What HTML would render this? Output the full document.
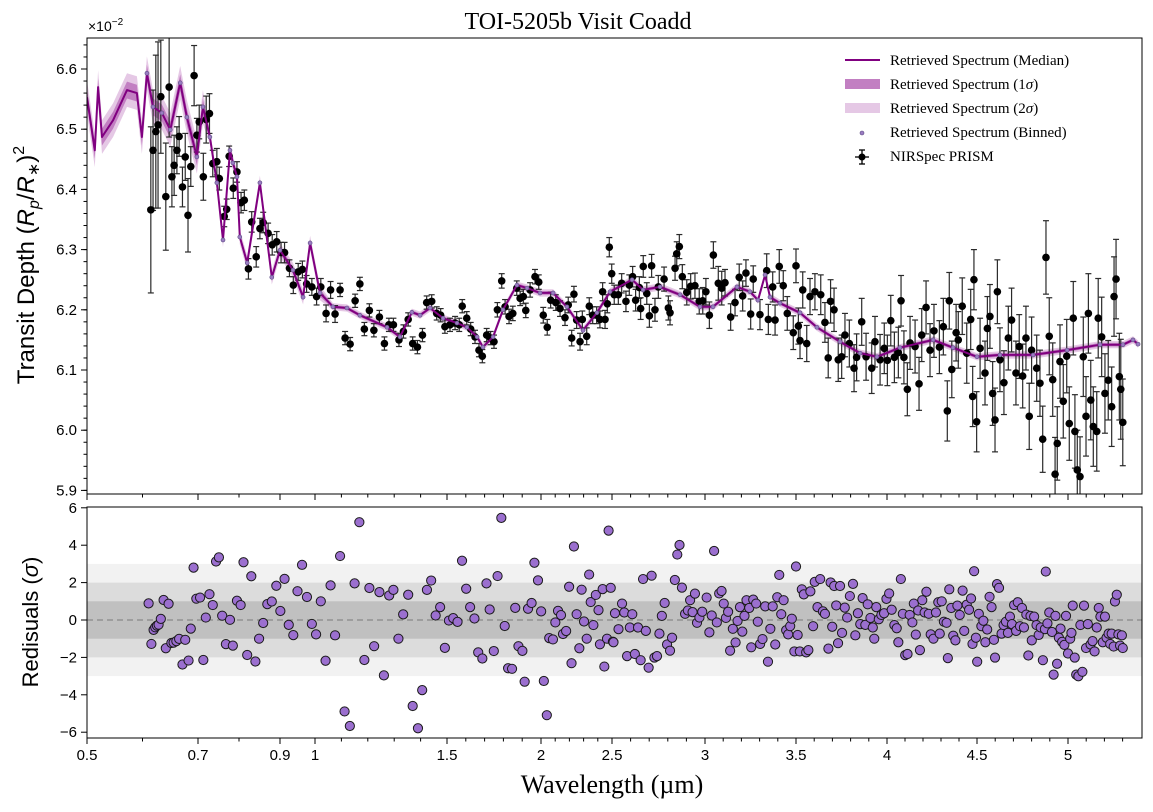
<!DOCTYPE html>
<html><head><meta charset="utf-8">
<style>
html,body{margin:0;padding:0;background:#fff;}
svg{display:block;}
text{font-family:"Liberation Sans","DejaVu Sans",sans-serif;}
.serif{font-family:"Liberation Serif","DejaVu Serif",serif;}
</style></head>
<body>
<svg id="chart" width="1153" height="812" viewBox="0 0 1153 812" xmlns="http://www.w3.org/2000/svg">
<defs>
<clipPath id="clipTop"><rect x="87" y="38" width="1055" height="456"/></clipPath>
<clipPath id="clipBot"><rect x="87" y="507" width="1055" height="231"/></clipPath>
</defs>
<text class="serif" x="578" y="29" font-size="24" text-anchor="middle">TOI-5205b Visit Coadd</text>
<text x="88" y="31" font-size="14">×10<tspan dy="-6" font-size="10">−2</tspan></text>
<g id="bands-bot"></g>
<g id="top-content" clip-path="url(#clipTop)"></g>
<g id="bot-content" clip-path="url(#clipBot)"></g>
<g id="axes"></g>
<text x="34" y="265" font-size="24" text-anchor="middle" transform="rotate(-90 34 265)">Transit Depth (<tspan font-style="italic">R</tspan><tspan font-size="16" dy="5" font-style="italic">p</tspan><tspan dy="-5">/</tspan><tspan font-style="italic">R</tspan><tspan font-size="16" dy="5">∗</tspan><tspan dy="-5">)</tspan><tspan font-size="16" dy="-10">2</tspan></text>
<text x="38" y="622" font-size="22" text-anchor="middle" transform="rotate(-90 38 622)">Redisuals (<tspan font-style="italic">σ</tspan>)</text>
<text class="serif" x="612" y="793" font-size="26" text-anchor="middle">Wavelength (µm)</text>
<g id="legend">
<line x1="845" y1="60" x2="880" y2="60" stroke="#800080" stroke-width="2"/>
<text class="serif" x="890" y="65" font-size="15">Retrieved Spectrum (Median)</text>
<rect x="845" y="79" width="35" height="10" fill="#c27fc2"/>
<text class="serif" x="890" y="89" font-size="15">Retrieved Spectrum (1<tspan font-style="italic">σ</tspan>)</text>
<rect x="845" y="103" width="35" height="10" fill="#e5c8e5"/>
<text class="serif" x="890" y="113" font-size="15">Retrieved Spectrum (2<tspan font-style="italic">σ</tspan>)</text>
<circle cx="862" cy="133" r="2" fill="#9b7cc2" stroke="#5a4a80" stroke-width="0.6"/>
<text class="serif" x="890" y="137" font-size="15">Retrieved Spectrum (Binned)</text>
<g>
<line x1="855" y1="157" x2="869" y2="157" stroke="#000" stroke-width="1.3"/>
<line x1="862" y1="150" x2="862" y2="164" stroke="#000" stroke-width="1.3"/>
<line x1="859" y1="150" x2="865" y2="150" stroke="#000" stroke-width="1.3"/>
<line x1="859" y1="164" x2="865" y2="164" stroke="#000" stroke-width="1.3"/>
<circle cx="862" cy="157" r="3.5" fill="#000"/>
</g>
<text class="serif" x="890" y="161" font-size="15">NIRSpec PRISM</text>
</g>
</svg>
<script>
// ---- data ----
const modelWl=[0.500,0.514,0.520,0.527,0.547,0.572,0.590,0.599,0.608,0.619,0.635,0.650,0.668,0.680,0.698,0.712,0.729,0.746,0.761,0.778,0.785,0.795,0.802,0.820,0.851,0.880,0.900,0.937,0.966,0.986,1.019,1.068,1.121,1.170,1.273,1.322,1.367,1.398,1.436,1.485,1.553,1.606,1.660,1.691,1.745,1.798,1.872,1.926,1.995,2.085,2.183,2.296,2.394,2.486,2.608,2.667,2.758,2.866,2.973,3.044,3.176,3.247,3.291,3.330,3.357,3.412,3.522,3.615,3.742,3.852,3.945,4.072,4.256,4.367,4.500,4.626,4.808,4.995,5.176,5.302,5.357,5.385];
const modelDepth=[6.553,6.465,6.570,6.487,6.515,6.565,6.560,6.487,6.593,6.537,6.527,6.499,6.577,6.520,6.454,6.537,6.487,6.411,6.316,6.465,6.444,6.421,6.321,6.278,6.411,6.254,6.299,6.266,6.221,6.311,6.228,6.205,6.203,6.191,6.171,6.155,6.196,6.191,6.203,6.186,6.178,6.171,6.155,6.138,6.155,6.200,6.241,6.236,6.228,6.228,6.205,6.166,6.195,6.230,6.250,6.233,6.238,6.225,6.205,6.205,6.238,6.230,6.216,6.258,6.221,6.211,6.195,6.171,6.147,6.128,6.122,6.137,6.150,6.137,6.122,6.125,6.125,6.133,6.142,6.142,6.150,6.143];
const sigmaEdges=[0.72,1.02];
const sigmaVals=[0.014,0.006,0.003];
const dataWl=[0.615,0.619,0.624,0.628,0.633,0.642,0.648,0.653,0.657,0.662,0.666,0.672,0.677,0.682,0.687,0.693,0.698,0.703,0.713,0.720,0.728,0.736,0.746,0.752,0.764,0.770,0.776,0.786,0.795,0.805,0.813,0.823,0.831,0.842,0.851,0.859,0.871,0.881,0.892,0.903,0.913,0.927,0.938,0.952,0.964,0.976,0.991,1.006,1.022,1.042,1.059,1.076,
1.095,1.114,1.133,1.152,1.170,1.187,1.206,1.223,1.244,1.263,1.280,1.297,1.318,1.335,1.353,1.370,1.388,1.407,1.423,1.442,1.461,1.476,1.492,1.516,1.543,1.565,1.581,1.605,1.626,1.649,1.670,1.688,1.711,1.732,1.750,1.768,1.791,1.809,1.830,1.850,1.871,1.889,1.906,1.919,1.942,1.968,1.988,2.016,2.044,2.068,2.104,2.134,2.169,2.192,2.216,2.232,2.251,2.275,2.291,2.322,2.340,2.364,2.392,2.415,2.434,2.451,2.467,2.481,2.498,2.512,2.534,2.552,2.575,2.593,2.611,2.627,2.647,2.654,2.668,2.687,2.701,2.713,2.731,2.749,2.780,2.803,2.812,2.839,2.848,2.862,2.878,2.902,2.923,2.946,2.969,2.988,3.005,3.024,
3.046,3.073,3.092,3.110,3.141,3.165,3.188,3.207,3.225,3.251,3.265,3.302,3.339,3.348,3.372,3.385,3.408,3.430,3.452,3.485,3.500,3.513,3.522,3.537,3.559,3.577,3.604,3.636,3.659,3.677,3.690,3.709,3.732,3.751,3.769,3.793,3.819,3.833,3.861,3.885,3.916,3.934,3.962,3.985,4.002,4.021,4.041,4.063,4.078,4.094,4.113,4.128,4.156,4.178,4.193,4.217,4.239,4.261,4.291,4.313,4.335,4.346,4.360,4.384,4.396,4.418,4.443,4.465,4.476,4.483,4.498,4.517,4.544,4.557,4.571,4.586,4.599,4.612,4.626,4.648,4.672,4.690,4.714,4.732,4.751,4.769,4.787,4.800,4.828,4.846,4.861,4.879,4.897,4.916,4.929,4.941,4.956,4.974,4.993,5.007,5.029,5.038,5.051,5.066,5.084,5.099,5.112,5.125,5.139,5.158,5.166,5.185,5.203,5.221,5.240,5.253,5.264,5.282,5.290,5.301];
const dataDepth=[6.366,6.465,6.496,6.507,6.554,6.388,6.570,6.421,6.440,6.465,6.488,6.404,6.454,6.357,6.438,6.589,6.490,6.512,6.421,6.516,6.526,6.443,6.446,6.418,6.355,6.367,6.455,6.402,6.429,6.378,6.382,6.268,6.346,6.288,6.335,6.345,6.327,6.308,6.313,6.295,6.295,6.269,6.241,6.263,6.267,6.243,6.238,6.222,6.238,6.194,6.233,6.193,
6.233,6.153,6.143,6.215,6.243,6.168,6.199,6.166,6.188,6.144,6.175,6.175,6.150,6.164,6.184,6.144,6.138,6.158,6.212,6.214,6.194,6.191,6.172,6.175,6.178,6.175,6.206,6.186,6.168,6.155,6.133,6.123,6.158,6.153,6.147,6.200,6.248,6.205,6.189,6.194,6.236,6.219,6.222,6.199,6.233,6.255,6.246,6.191,6.171,6.216,6.212,6.202,6.187,6.208,6.153,6.226,6.183,6.147,6.184,6.156,6.206,6.191,6.191,6.184,6.230,6.184,6.210,6.304,6.260,6.225,6.225,6.244,6.214,6.241,6.255,6.216,6.237,6.202,6.272,6.227,6.190,6.273,6.200,6.238,6.251,6.203,6.195,6.269,6.293,6.305,6.255,6.229,6.239,6.240,6.214,6.215,6.230,6.191,
6.291,6.244,6.236,6.245,6.188,6.212,6.254,6.223,6.261,6.193,6.251,6.192,6.265,6.184,6.238,6.183,6.272,6.240,6.194,6.162,6.273,6.173,6.149,6.233,6.144,6.222,6.230,6.225,6.179,6.120,6.214,6.200,6.117,6.122,6.158,6.144,6.103,6.121,6.180,6.122,6.103,6.147,6.117,6.136,6.116,6.182,6.121,6.129,6.215,6.121,6.068,6.145,6.139,6.077,6.158,6.204,6.133,6.165,6.138,6.172,6.032,6.215,6.101,6.162,6.150,6.206,6.128,6.184,6.056,6.250,6.014,6.136,6.095,6.169,6.189,6.061,6.017,6.230,6.117,6.079,6.153,6.183,6.095,6.139,6.090,6.153,6.023,6.133,6.103,6.078,5.985,6.287,6.156,6.084,5.927,5.978,6.114,6.048,6.123,6.011,6.186,5.998,5.934,5.923,6.122,6.023,6.194,6.050,6.006,5.998,6.186,6.155,6.061,6.083,6.039,6.222,6.251,6.089,6.068,6.013];
const dataErr=[0.138,0.10,0.127,0.138,0.094,0.089,0.083,0.05,0.05,0.039,0.033,0.033,0.039,0.061,0.033,0.05,0.028,0.028,0.039,0.039,0.033,0.022,0.022,0.019,0.017,0.017,0.017,0.017,0.017,0.017,0.017,0.017,0.017,0.017,0.017,0.017,0.017,0.017,0.017,0.017,0.017,0.014,0.014,0.014,0.014,0.014,0.014,0.014,0.014,0.014,0.014,0.014,
0.011,0.011,0.011,0.011,0.011,0.011,0.011,0.011,0.011,0.011,0.011,0.011,0.011,0.011,0.011,0.011,0.011,0.011,0.011,0.011,0.011,0.011,0.011,0.011,0.011,0.011,0.011,0.011,0.011,0.011,0.011,0.011,0.011,0.011,0.011,0.012,0.012,0.012,0.012,0.012,0.012,0.012,0.012,0.012,0.012,0.012,0.012,0.013,0.013,0.013,0.013,0.013,0.013,0.013,0.013,0.013,0.014,0.014,0.014,0.014,0.014,0.014,0.014,0.014,0.015,0.015,0.015,0.016,0.016,0.016,0.016,0.016,0.017,0.017,0.017,0.018,0.018,0.018,0.018,0.018,0.019,0.019,0.019,0.019,0.020,0.020,0.020,0.020,0.020,0.020,0.020,0.021,0.021,0.021,0.021,0.022,0.022,0.022,
0.022,0.028,0.028,0.022,0.022,0.022,0.022,0.025,0.022,0.025,0.022,0.025,0.028,0.025,0.025,0.025,0.028,0.025,0.028,0.028,0.028,0.030,0.030,0.030,0.030,0.030,0.030,0.033,0.033,0.033,0.036,0.036,0.036,0.036,0.036,0.039,0.039,0.039,0.039,0.039,0.042,0.042,0.042,0.042,0.042,0.042,0.042,0.042,0.042,0.044,0.044,0.044,0.044,0.044,0.044,0.044,0.044,0.044,0.044,0.047,0.050,0.047,0.047,0.047,0.047,0.047,0.050,0.050,0.050,0.050,0.050,0.050,0.053,0.053,0.053,0.053,0.053,0.053,0.053,0.053,0.053,0.053,0.053,0.053,0.053,0.053,0.055,0.055,0.055,0.055,0.055,0.061,0.064,0.061,0.061,0.061,0.061,0.061,0.061,0.061,0.061,0.061,0.066,0.066,0.066,0.066,0.066,0.066,0.066,0.066,0.066,0.066,0.066,0.066,0.066,0.066,0.066,0.072,0.083,0.072,0.072,0.072];
const resWl=[0.611,0.616,0.620,0.623,0.626,0.629,0.633,0.638,0.642,0.647,0.652,0.656,0.661,0.666,0.672,0.677,0.683,0.687,0.692,0.697,0.705,0.713,0.719,0.728,0.736,0.744,0.751,0.759,0.768,0.778,0.785,0.795,0.804,0.811,0.820,0.830,0.840,0.849,0.859,0.869,0.880,0.891,0.901,0.913,0.925,0.938,0.950,0.963,0.977,0.991,1.004,1.022,1.040,1.059,1.076,1.095,1.112,1.132,1.150,1.168,1.187,1.206,1.224,1.244,1.261,1.281,1.297,1.316,1.334,1.353,1.370,1.390,1.406,1.424,1.440,1.457,1.474,1.492,1.510,1.533,1.556,1.580,1.602,1.623,1.646,1.666,1.688,1.710,1.727,1.749,1.769,1.789,1.807,1.825,1.846,1.863,1.880,1.901,1.913,1.931,1.950,1.965,1.984,2.001,2.020,2.041,2.058,2.084,2.101,2.120,2.141,2.155,2.177,2.198,2.215,2.232,2.251,2.270,2.286,2.303,2.322,2.339,2.350,2.369,2.386,2.405,2.415,2.434,2.446,2.465,2.476,2.491,2.505,
2.508,2.516,2.535,2.554,2.566,2.581,2.596,2.609,2.623,2.640,2.654,2.667,2.682,2.697,2.713,2.728,2.742,2.755,2.768,2.783,2.796,2.812,2.823,2.838,2.851,2.863,2.876,2.893,2.908,2.920,2.933,2.946,2.957,2.970,2.985,3.009,3.024,3.037,3.050,3.065,3.078,3.091,3.103,3.115,3.127,3.138,3.153,3.168,3.179,3.192,3.205,3.217,3.228,3.243,3.254,3.265,3.281,3.290,3.303,3.316,3.331,3.346,3.359,3.372,3.386,3.397,3.408,3.419,3.432,3.446,3.457,3.468,3.477,3.491,3.500,3.509,3.521,3.532,3.543,3.556,3.568,3.579,3.594,3.603,3.618,3.633,3.648,3.659,3.678,3.690,3.699,3.710,3.721,3.731,3.742,3.753,3.768,3.781,3.796,3.813,3.826,3.840,3.853,3.866,3.881,3.894,3.909,3.922,3.930,3.941,3.955,3.969,3.984,3.997,4.012,4.026,4.041,4.054,4.063,4.077,4.088,4.101,4.114,4.126,4.141,4.149,4.160,4.173,4.183,4.196,4.209,4.219,4.232,4.243,4.258,4.272,4.285,4.293,4.304,4.316,4.331,4.338,4.346,4.357,4.368,4.380,4.391,4.404,4.420,4.429,4.443,4.456,4.467,4.475,4.484,4.494,4.501,4.510,4.524,4.535,4.546,4.556,4.569,4.580,4.593,4.599,4.610,4.621,4.635,4.646,4.659,4.670,4.681,4.692,4.704,4.715,4.724,4.736,4.747,4.758,4.771,4.782,4.794,4.801,4.814,4.827,4.839,4.850,4.862,4.873,4.878,4.887,4.897,4.912,4.921,4.931,4.940,4.950,4.959,4.968,4.980,4.989,5.000,5.012,5.019,5.026,5.037,5.045,5.057,5.068,5.079,5.088,5.099,5.109,5.124,5.135,5.146,5.158,5.169,5.178,5.191,5.203,5.212,5.223,5.232,5.240,5.251,5.258,5.268,5.277,5.286,5.296,5.301];
const resVal=[0.89,-1.28,-0.53,-0.39,-0.30,-0.25,0.06,1.07,-1.51,0.87,-1.23,-1.21,-1.13,-1.01,-2.38,-1.06,-2.17,-0.46,2.80,1.14,1.20,-2.14,0.13,1.38,0.80,3.13,3.35,0.23,-1.29,0.01,-1.37,1.03,0.80,3.09,-1.87,2.34,-2.22,-1.00,-0.16,0.85,0.99,1.83,0.48,2.20,-0.26,-0.81,1.54,2.95,1.23,-0.21,-0.77,1.00,-2.18,1.85,-0.82,3.42,-4.89,-5.67,1.96,5.23,-2.14,1.71,-1.40,1.49,-2.96,1.31,1.61,-1.00,0.30,1.35,-4.60,-5.79,-3.75,1.61,2.11,0.24,0.69,-1.49,-0.03,0.10,-0.10,3.17,1.67,0.69,0.08,-1.73,-2.06,1.96,0.56,-1.66,2.35,5.46,-0.32,-2.58,-2.61,0.65,-1.40,-1.65,-3.30,0.60,0.91,3.06,2.12,0.46,-3.26,-5.09,-0.97,-1.04,-0.13,0.49,0.26,-0.75,-0.59,1.78,-2.31,3.93,0.31,-1.51,1.62,-0.08,-1.00,2.43,0.96,-0.27,1.34,0.53,-1.30,1.65,-2.49,-1.00,4.78,1.72,-1.16,
-1.19,0.36,-0.49,0.88,0.40,-1.93,-0.40,0.31,-1.82,-0.40,-2.15,2.19,-0.58,-2.55,2.37,-2.01,-1.93,-0.73,0.22,0.91,-1.31,-1.64,-0.95,2.14,3.50,4.01,1.73,0.33,0.51,1.06,0.42,1.41,-0.15,0.13,0.44,1.20,-0.66,0.24,3.69,-0.13,1.42,1.55,0.88,0.11,0.44,-1.64,-0.47,-1.20,-0.05,0.69,-0.62,0.22,1.06,0.64,-1.46,1.09,0.88,-0.09,-1.28,-1.02,0.73,-2.23,-0.47,0.73,-1.31,1.22,2.41,0.31,1.06,-0.55,-0.77,-0.33,0.07,-1.68,2.86,-0.80,-1.68,1.64,1.37,-1.73,-1.61,1.53,-0.33,2.04,0.69,2.19,0.46,0.33,-1.53,2.01,-0.36,1.82,0.78,-1.24,1.82,-0.69,0.66,0.13,1.28,1.93,-0.82,0.36,-0.22,1.17,-0.26,0.84,0.11,-0.40,-1.00,0.69,0.04,0.27,0.36,1.13,1.42,0.55,-0.27,-0.44,-1.19,2.19,0.33,-1.88,-1.82,0.27,-0.13,0.88,-0.78,0.51,-1.61,1.06,0.40,1.51,0.33,-0.77,-1.00,0.40,0.95,-0.73,1.00,-0.09,-0.15,-2.04,1.64,0.64,-0.84,-1.09,0.77,0.27,1.57,-0.58,0.82,0.55,1.15,-1.28,2.61,-0.95,-2.23,0.33,-0.33,-0.04,-1.19,-0.51,1.24,0.69,-1.06,-2.01,1.92,1.72,-0.73,-0.27,-0.09,-0.69,0.18,-0.22,0.80,-0.58,0.95,-0.33,0.64,-0.40,0.29,-1.90,0.22,-1.09,0.18,-0.27,-0.80,-0.40,-2.15,-0.49,2.59,-0.18,0.40,-0.64,-2.92,0.22,-2.34,-0.95,-0.46,-1.17,-1.33,0.22,-1.79,-1.00,-0.69,0.77,-2.01,-2.92,-3.01,-0.27,-2.77,0.77,-1.50,-0.22,-1.31,-1.13,-1.68,-0.40,0.64,0.18,-1.19,0.18,-0.95,-0.73,-1.28,-0.73,-1.42,0.99,1.35,-0.77,-1.37,-0.82,-1.50];
const xTickVals=[0.5,0.7,0.9,1,1.5,2,2.5,3,3.5,4,4.5,5];
const xTickLabels=["0.5","0.7","0.9","1","1.5","2","2.5","3","3.5","4","4.5","5"];
const yTopTicks=[6.6,6.5,6.4,6.3,6.2,6.1,6.0,5.9];
const yBotTicks=[6,4,2,0,-2,-4,-6];

// ---- axes functions ----
const KW=[0.5,0.7,0.9,1,1.5,2,2.5,3,3.5,4,4.5,5];
const KP=[87,198,280,315,447,541,612,705,796,887,977,1068];
function xs(w){
  if(w>=5) return 1068+(w-5)*182;
  for(let i=0;i<KW.length-1;i++){
    if(w<=KW[i+1]) return KP[i]+(w-KW[i])/(KW[i+1]-KW[i])*(KP[i+1]-KP[i]);
  }
  return 1068;
}
function yT(d){return 69+(6.6-d)*602;}
function yB(r){return 620-r*18.7;}
function sigmaAt(w){for(let i=0;i<sigmaEdges.length;i++){if(w<sigmaEdges[i])return sigmaVals[i];}return sigmaVals[sigmaVals.length-1];}

const NS="http://www.w3.org/2000/svg";
function mk(tag,attrs,parent){const e=document.createElementNS(NS,tag);for(const k in attrs)e.setAttribute(k,attrs[k]);parent.appendChild(e);return e;}

const topG=document.getElementById('top-content');
const botG=document.getElementById('bot-content');
const bandsBot=document.getElementById('bands-bot');
const axesG=document.getElementById('axes');

// residual sigma bands
[[3,"#f2f2f2"],[2,"#dcdcdc"],[1,"#c0c0c0"]].forEach(([s,c])=>{
  const r=mk('rect',{x:87,y:yB(s),width:1055,height:yB(-s)-yB(s),fill:c},bandsBot);
  
  
});
const zl=mk('line',{x1:87,x2:1142,y1:yB(0),y2:yB(0),stroke:'#888','stroke-dasharray':'6,4','stroke-width':1.2},bandsBot);



// model bands
function bandPath(k){
  let up=[],dn=[];
  for(let i=0;i<modelWl.length;i++){const s=sigmaAt(modelWl[i])*k;up.push(xs(modelWl[i]).toFixed(1)+','+yT(modelDepth[i]+s).toFixed(1));dn.unshift(xs(modelWl[i]).toFixed(1)+','+yT(modelDepth[i]-s).toFixed(1));}
  return 'M'+up.join('L')+'L'+dn.join('L')+'Z';
}
const b2=mk('path',{d:bandPath(2),fill:'#e5c8e5'},topG);


const b1=mk('path',{d:bandPath(1),fill:'#c27fc2'},topG);



// data error bars and points
const eg=mk('g',{},topG);


for(let i=0;i<dataWl.length;i++){
  const x=xs(dataWl[i]),y=yT(dataDepth[i]),e=dataErr[i]*602;
  const g=mk('g',{stroke:'#2a2a2a','stroke-width':1.2},eg);
  
  
  mk('line',{x1:x,x2:x,y1:y-e,y2:y+e},g);
  mk('line',{x1:x-3,x2:x+3,y1:y-e,y2:y-e},g);
  mk('line',{x1:x-3,x2:x+3,y1:y+e,y2:y+e},g);
  mk('line',{x1:x-2.5,x2:x+2.5,y1:y,y2:y},g);
}
for(let i=0;i<dataWl.length;i++){
  const c=mk('circle',{cx:xs(dataWl[i]),cy:yT(dataDepth[i]),r:3.8,fill:'#000'},eg);
  
  
}

// model median line
const pts=modelWl.map((w,i)=>xs(w).toFixed(1)+','+yT(modelDepth[i]).toFixed(1)).join(' ');
const ml=mk('polyline',{points:pts,fill:'none',stroke:'#800080','stroke-width':2,'stroke-linejoin':'round'},topG);



// binned markers
for(let i=0;i<modelWl.length;i++){
  if(modelWl[i]<0.6)continue;
  const c=mk('circle',{cx:xs(modelWl[i]),cy:yT(modelDepth[i]),r:2,fill:'#9b7cc2',stroke:'#5a4a80','stroke-width':0.6},topG);
  
  
}

// residual points
for(let i=0;i<resWl.length;i++){
  const c=mk('circle',{cx:xs(resWl[i]),cy:yB(resVal[i]),r:4.6,fill:'#9b6fcf',stroke:'#1a1a1a','stroke-width':1},botG);
  
  
}

// frames
const f1=mk('rect',{x:87,y:38,width:1055,height:456,fill:'none',stroke:'#000','stroke-width':1},axesG);


const f2=mk('rect',{x:87,y:507,width:1055,height:231,fill:'none',stroke:'#000','stroke-width':1},axesG);



// x ticks
const minorTicks=[0.6,0.8];
for(let k=11;k<=53;k++){if(k%5!==0)minorTicks.push(k/10);}
minorTicks.forEach(v=>{
  [494,738].forEach(yb=>{mk('line',{x1:xs(v),x2:xs(v),y1:yb,y2:yb+3.5,stroke:'#000','stroke-width':1},axesG);});
});
xTickVals.forEach((v,i)=>{
  [494,738].forEach(yb=>{mk('line',{x1:xs(v),x2:xs(v),y1:yb,y2:yb+6,stroke:'#000','stroke-width':1},axesG);});
  const t=mk('text',{x:xs(v),y:760,'font-size':15,'text-anchor':'middle'},axesG);
  t.textContent=xTickLabels[i];
  
  
});
// y ticks top
for(let k=295;k<=332;k++){const v=k/50;mk('line',{x1:83.5,x2:87,y1:yT(v),y2:yT(v),stroke:'#000','stroke-width':1},axesG);}
yTopTicks.forEach(v=>{
  mk('line',{x1:81,x2:87,y1:yT(v),y2:yT(v),stroke:'#000','stroke-width':1},axesG);
  const t=mk('text',{x:77,y:yT(v)+5,'font-size':15,'text-anchor':'end'},axesG);
  t.textContent=v.toFixed(1);
  
  
});
yBotTicks.forEach(v=>{
  mk('line',{x1:81,x2:87,y1:yB(v),y2:yB(v),stroke:'#000','stroke-width':1},axesG);
  const t=mk('text',{x:77,y:yB(v)+5,'font-size':15,'text-anchor':'end'},axesG);
  t.textContent=(v<0?'−':'')+Math.abs(v);
  
  
});
</script>
</body></html>
